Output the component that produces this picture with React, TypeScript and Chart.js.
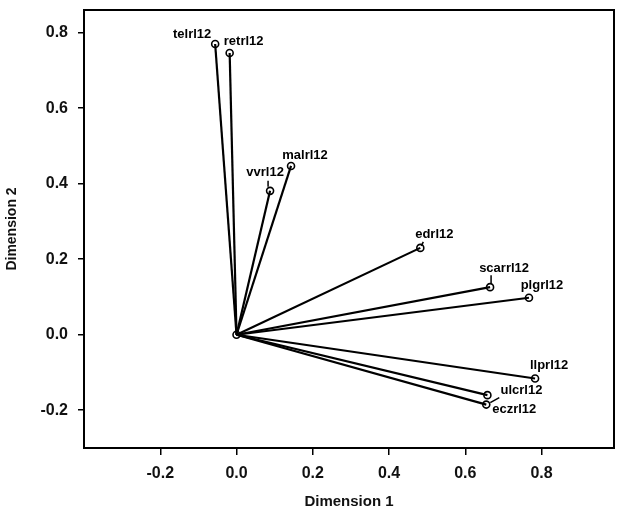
import React, { useEffect, useRef } from "react";
import { Chart, registerables } from "chart.js";

Chart.register(...registerables);

const variables = ["telrl12", "retrl12", "malrl12", "vvrl12", "edrl12", "scarrl12", "plgrl12", "llprl12", "ulcrl12", "eczrl12"];
const dimension1 = [-0.056, -0.018, 0.143, 0.088, 0.482, 0.665, 0.767, 0.783, 0.658, 0.655];
const dimension2 = [0.77, 0.746, 0.447, 0.381, 0.23, 0.126, 0.098, -0.116, -0.16, -0.185];
const xTickValues = [-0.2, 0.0, 0.2, 0.4, 0.6, 0.8];
const yTickValues = [-0.2, 0.0, 0.2, 0.4, 0.6, 0.8];

// label placement (pixel offsets from point) and short leader lines
const labelLayout: Record<string, { dx: number; dy: number; leader?: [number, number, number, number] }> = {
  telrl12: { dx: -23, dy: -10 },
  retrl12: { dx: 14, dy: -12 },
  malrl12: { dx: 14, dy: -11 },
  vvrl12: { dx: -5, dy: -18, leader: [-2, -4, -2, -10] },
  edrl12: { dx: 14, dy: -13, leader: [1, -2, 3, -6] },
  scarrl12: { dx: 14, dy: -19, leader: [1, -4, 1, -12] },
  plgrl12: { dx: 13, dy: -12 },
  llprl12: { dx: 14, dy: -13 },
  ulcrl12: { dx: 34, dy: -5 },
  eczrl12: { dx: 28, dy: 5, leader: [4, -2, 13, -7] },
};

const FONT = "'Liberation Sans', Arial, sans-serif";

const labelPlugin = {
  id: "vectorLabels",
  afterDatasetsDraw(chart: any) {
    const { ctx, scales } = chart;
    ctx.save();
    ctx.fillStyle = "#000";
    ctx.strokeStyle = "#000";
    ctx.lineWidth = 1.5;
    ctx.font = `bold 13px ${FONT}`;
    ctx.textAlign = "center";
    ctx.textBaseline = "middle";
    variables.forEach((name, i) => {
      const px = scales.x.getPixelForValue(dimension1[i]);
      const py = scales.y.getPixelForValue(dimension2[i]);
      const lay = labelLayout[name];
      ctx.fillText(name, px + lay.dx, py + lay.dy);
      if (lay.leader) {
        const [x1, y1, x2, y2] = lay.leader;
        ctx.beginPath();
        ctx.moveTo(px + x1, py + y1);
        ctx.lineTo(px + x2, py + y2);
        ctx.stroke();
      }
    });
    ctx.restore();
  },
  afterDraw(chart: any) {
    const { ctx, chartArea } = chart;
    ctx.save();
    ctx.strokeStyle = "#000";
    ctx.lineWidth = 2;
    ctx.strokeRect(chartArea.left, chartArea.top, chartArea.right - chartArea.left, chartArea.bottom - chartArea.top);
    ctx.restore();
  },
};

export default function App() {
  const ref = useRef<HTMLCanvasElement>(null);
  useEffect(() => {
    if (!ref.current) return;
    const datasets: any[] = variables.map((name, i) => ({
      label: name,
      data: [
        { x: 0, y: 0 },
        { x: dimension1[i], y: dimension2[i] },
      ],
      showLine: true,
      borderColor: "#000",
      borderWidth: 2.2,
      pointRadius: [0, 3.5],
      pointBorderWidth: 1.6,
      pointBorderColor: "#000",
      pointBackgroundColor: "rgba(255,255,255,0)",
    }));
    datasets.push({
      label: "origin",
      data: [{ x: 0, y: 0 }],
      showLine: false,
      pointRadius: 3.5,
      pointBorderWidth: 1.6,
      pointBorderColor: "#000",
      pointBackgroundColor: "rgba(255,255,255,0)",
    });
    const tickFont = { family: FONT, size: 16, weight: "bold" as const };
    const chart = new Chart(ref.current, {
      type: "scatter",
      data: { datasets },
      plugins: [labelPlugin],
      options: {
        animation: false,
        responsive: false,
        layout: { padding: { top: 10, right: 10, left: 0, bottom: 0 } },
        plugins: { legend: { display: false }, tooltip: { enabled: false } },
        scales: {
          x: {
            type: "linear",
            min: -0.4,
            max: 0.99,
            afterBuildTicks: (scale: any) => {
              scale.ticks = xTickValues.map((v) => ({ value: v }));
            },
            afterFit: (scale: any) => {
              scale.height = 68;
              scale.paddingLeft = 0;
              scale.paddingRight = 0;
            },
            grid: { display: true, drawOnChartArea: false, drawTicks: true, tickLength: 7, color: "#000", lineWidth: 1.5 },
            border: { display: true, color: "#000", width: 2 },
            ticks: { color: "#111", font: tickFont, padding: 9, maxRotation: 0, callback: (v: any) => Number(v).toFixed(1) },
            title: { display: true, text: "Dimension 1", color: "#111", font: { family: FONT, size: 15, weight: "bold" }, padding: { top: 0, bottom: 5 } },
          },
          y: {
            type: "linear",
            min: -0.3,
            max: 0.86,
            afterBuildTicks: (scale: any) => {
              scale.ticks = yTickValues.map((v) => ({ value: v }));
            },
            afterFit: (scale: any) => {
              scale.width = 84;
              scale.paddingTop = 0;
              scale.paddingBottom = 0;
            },
            grid: { display: true, drawOnChartArea: false, drawTicks: true, tickLength: 6, color: "#000", lineWidth: 1.5 },
            border: { display: true, color: "#000", width: 2 },
            ticks: { color: "#111", font: tickFont, padding: 10, callback: (v: any) => Number(v).toFixed(1) },
            title: { display: true, text: "Dimension 2", color: "#111", font: { family: FONT, size: 14, weight: "bold" }, padding: { top: 4, bottom: 0 } },
          },
        },
      },
    });
    return () => chart.destroy();
  }, []);
  return (
    <div style={{ position: "fixed", left: 0, top: 0, width: 624, height: 516, background: "#fff" }}>
      <canvas ref={ref} width={624} height={516} style={{ display: "block" }} />
    </div>
  );
}
